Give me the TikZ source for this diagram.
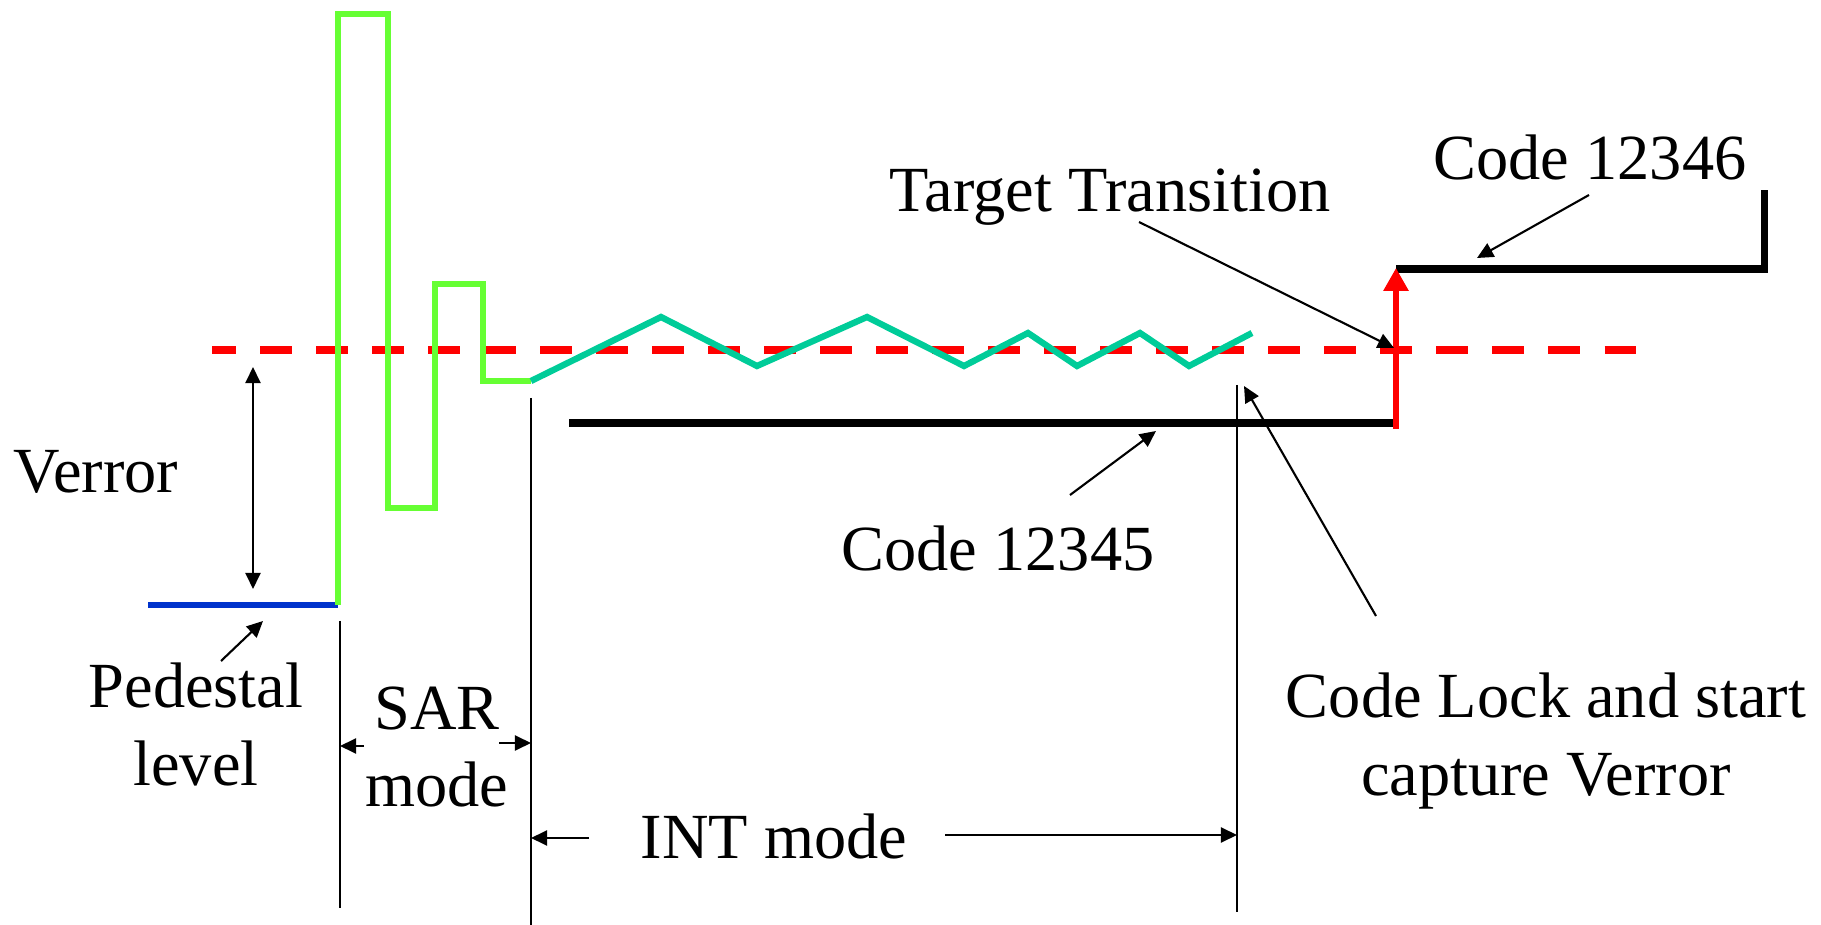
\documentclass[tikz,border=0pt]{standalone}
\usepackage{fontspec}
\setmainfont{Liberation Serif}
\usetikzlibrary{arrows.meta}
\definecolor{sarGreen}{HTML}{66FF33}
\definecolor{intTeal} {HTML}{00CC99}
\definecolor{pedBlue} {HTML}{0033CC}
\definecolor{tgtRed}  {HTML}{FF0000}

\begin{document}
\begin{tikzpicture}[x=0.01cm,y=-0.01cm,>={Triangle[length=4.6pt,width=4.3pt]},
      lbl/.style={font=\fontsize{18.3}{21.9}\selectfont,align=center,inner sep=0pt,anchor=base},
      guide/.style={line width=0.6pt},
      pointer/.style={->,line width=0.6pt},
      codeline/.style={line width=2pt,black},
      wave/.style={line width=1.8pt,line join=miter}]
    \useasboundingbox (0,0) rectangle (1821,925);
    % reference level
    \draw[tgtRed,line width=2.1pt,dash pattern=on 9.1pt off 6.83pt,dash phase=2.28pt]
       (212,350) -- (1636,350);
    % pedestal and SAR search
    \draw[pedBlue,line width=1.8pt] (148,605) -- (338,605);
    \draw[wave,sarGreen] (338,605) -- (338,14) -- (388,14) -- (388,508) -- (435,508)
       -- (435,284) -- (483,284) -- (483,381) -- (531,381);
    % INT tracking
    \draw[wave,intTeal] (531,381) -- (661,317) -- (757,366) -- (867,317) -- (964,366)
       -- (1028,333) -- (1077,366) -- (1140,333) -- (1189,366) -- (1252,333);
    % codes
    \draw[codeline] (569,423) -- (1394,423);
    \draw[codeline] (1396,269) -- (1764,269) -- (1764,190);
    \draw[tgtRed,line width=1.8pt,-{Triangle[length=6.5pt,width=6.8pt]}] (1396,429) -- (1396,268);

    % mode boundaries
    \coordinate (sarStart) at (340,621);
    \coordinate (intStart) at (531,398);
    \coordinate (lockPt)   at (1237,385);
    \draw[guide] (sarStart) -- (340,908);
    \draw[guide] (intStart) -- (531,925);
    \draw[guide] (lockPt) -- (1237,912);

    % labels (base = last line)
    \node[lbl] (verr) at (96,493) {Verror};
    \node[lbl] (ped)  at (196,785) {Pedestal\\level};
    \node[lbl] (sar)  at (437,807) {SAR\\mode};
    \node[lbl] (int)  at (774,858) {INT mode};
    \node[lbl] (c45)  at (998,571) {Code 12345};
    \node[lbl] (tgt)  at (1110,212) {Target Transition};
    \node[lbl] (c46)  at (1590,180) {Code 12346};
    \node[lbl] (lock) at (1546,795) {Code Lock and start\\capture Verror};

    % pointers
    \draw[<->,line width=0.6pt] (253,367) -- (253,589);
    \draw[pointer] (221,661) -- (263,621);
    \draw[pointer] (364,746) -- (340,746);
    \draw[pointer] (499,743) -- (531,743);
    \draw[pointer] (589,838) -- (531,838);
    \draw[pointer] (945,835) -- (1237,835);
    \draw[pointer] (1070,495) -- (1156,431);
    \draw[pointer] (1139,222) -- (1394,348);
    \draw[pointer] (1589,195) -- (1477,258);
    \draw[pointer] (1376,616) -- (1244,386);
  \end{tikzpicture}
\end{document}
